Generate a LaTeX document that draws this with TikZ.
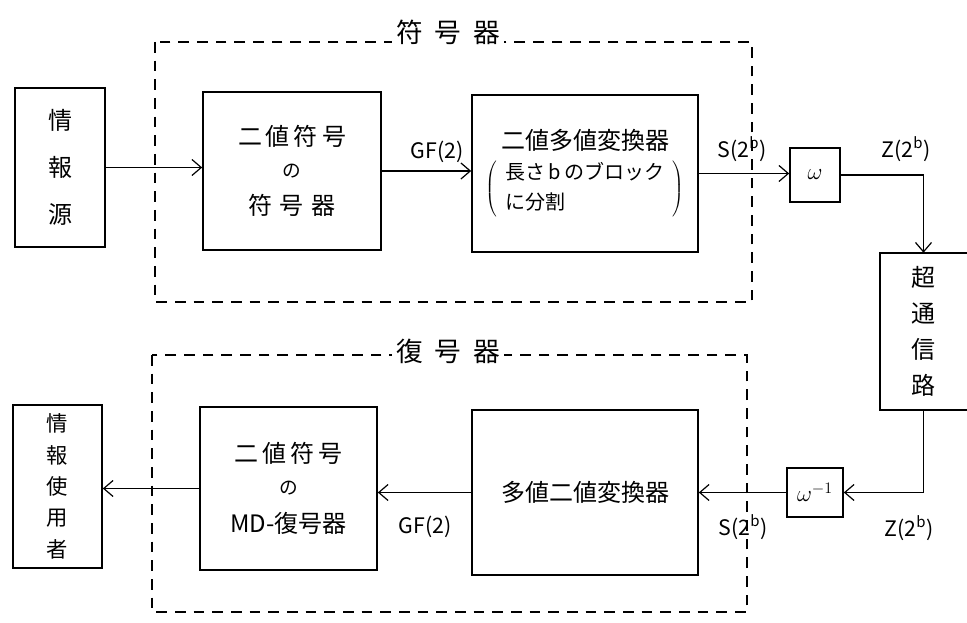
\documentclass[tikz,border=0pt]{standalone}
\usepackage{fontspec}
\setmainfont{Noto Sans CJK JP}
\usetikzlibrary{arrows.meta}
\begin{document}
\begin{tikzpicture}[x=0.75pt,y=-0.75pt,
  sz/.style 2 args={minimum width={#1*0.75pt},minimum height={#2*0.75pt}},
  box/.style={draw,line width=1.2pt,inner sep=0pt,align=center,font=\fontsize{18}{28}\selectfont},
  arr/.style={line width=0.9pt,-{Straight Barb[length=7pt,width=12pt,line width=0.9pt]}},
  dbox/.style={line width=1pt,dash pattern=on 8pt off 6pt},
  lbl/.style={font=\fontsize{16}{18}\selectfont,inner sep=1pt},
  ttl/.style={font=\fontsize{20}{24}\selectfont,fill=white,inner sep=3pt}]
\useasboundingbox (0,0) rectangle (967,623);

% dashed frames
\draw[dbox] (155,42) rectangle (752,302);
\node[ttl] (enct) at (448,32) {符\hspace{9pt}号\hspace{9pt}器};
\draw[dbox] (152,355) rectangle (747,612);
\node[ttl] (dect) at (448,351) {復\hspace{9pt}号\hspace{9pt}器};

% upper row
\node[box,sz={90}{159},font=\fontsize{18}{35}\selectfont] (src) at (60,167.5) {情\\報\\源};
\node[box,sz={178}{158}] (enc1) at (292,171) {二\,値\,符\,号\\[-4pt]{\fontsize{14}{16}\selectfont の}\\符\hspace{6pt}号\hspace{6pt}器};
\node[box,sz={226}{157}] (conv1) at (585,173.5) {二値多値変換器\\[6pt]
  $\left(\vcenter{\hbox{\fontsize{15}{22}\selectfont\begin{tabular}{@{\hspace{6pt}}l@{\hspace{6pt}}}長さ\,b\,のブロック\\に分割\end{tabular}}}\right)$};
\node[box,sz={50}{54},font=\fontsize{18}{20}\selectfont] (w) at (815,175) {$\omega$};
\node[inner sep=0pt,sz={87}{157},align=center,font=\fontsize{18}{27}\selectfont] (ch) at (923.5,331.5) {超\\通\\信\\路};
\draw[line width=1.2pt] (ch.north east) -- (ch.north west) -- (ch.south west) -- (ch.south east);

% lower row
\node[box,sz={56}{49},font=\fontsize{18}{20}\selectfont] (winv) at (815,492.5) {$\omega^{-1}$};
\node[box,sz={226}{165}] (conv2) at (585,492.5) {多値二値変換器};
\node[box,sz={177}{163}] (dec) at (288.5,488.5) {二\,値\,符\,号\\[-4pt]{\fontsize{14}{16}\selectfont の}\\MD-復号器};
\node[box,sz={89}{163},font=\fontsize{16}{23.5}\selectfont] (usr) at (57.5,486.5) {情\\報\\使\\用\\者};

% connectors
\draw[arr] (src.east) -- (src.east -| enc1.west);
\draw[arr] (enc1.east) -- (enc1.east -| conv1.west);
\draw[arr] (conv1.east) -- (conv1.east -| w.west);
\draw[arr] (w.east) -| (ch.north);
\draw[arr] (ch.south) |- (winv.east);
\draw[arr] (winv.west) -- (winv.west -| conv2.east);
\draw[arr] (conv2.west) -- (conv2.west -| dec.east);
\draw[arr] (dec.west) -- (dec.west -| usr.east);

% labels
\node[lbl] (l1) at (437,152) {GF(2)};
\node[lbl] (l2) at (742,149) {S(2\textsuperscript{b})};
\node[lbl] (l3) at (906,149) {Z(2\textsuperscript{b})};
\node[lbl] (l4) at (425,527) {GF(2)};
\node[lbl] (l5) at (743,527) {S(2\textsuperscript{b})};
\node[lbl] (l6) at (909,528) {Z(2\textsuperscript{b})};
\end{tikzpicture}
\end{document}
